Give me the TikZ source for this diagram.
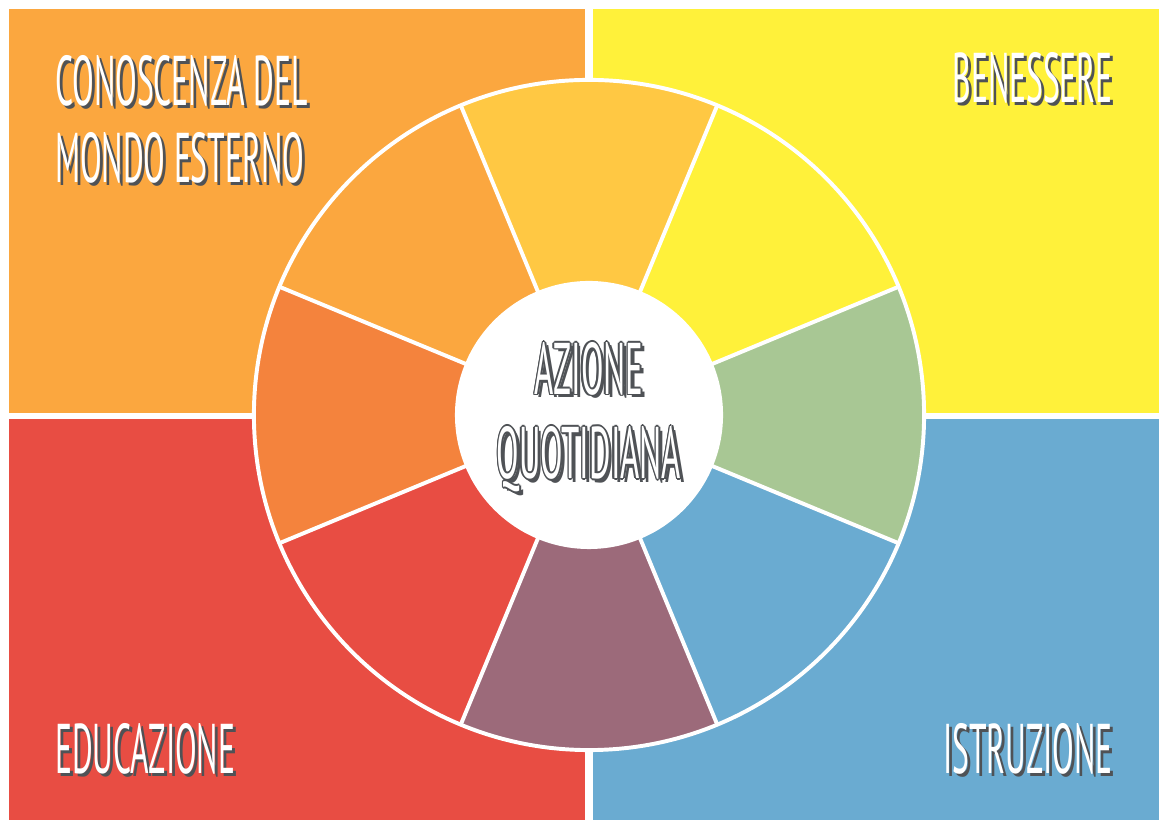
\documentclass[tikz,border=0pt]{standalone}
\usepackage{fontspec}
\usetikzlibrary{calc}
\newfontfamily\handfont[FakeStretch=0.45]{PT Sans}
\definecolor{quadorange}{HTML}{FBA73F}
\definecolor{quadyellow}{HTML}{FFF13A}
\definecolor{quadred}{HTML}{E84D43}
\definecolor{quadblue}{HTML}{6AABD1}
\definecolor{segamber}{HTML}{FFC843}
\definecolor{segdeep}{HTML}{F4833D}
\definecolor{segmauve}{HTML}{9C6A7A}
\definecolor{seggreen}{HTML}{A8C794}
\definecolor{shadowgray}{HTML}{4F5256}

\begin{document}
\begin{tikzpicture}[x=0.025cm,y=0.025cm,
    headtext/.style={font=\handfont\fontsize{50}{55}\selectfont, text=white, inner sep=0pt, align=left},
    headshade/.style={headtext, text=shadowgray},
    hubtext/.style={font=\handfont\fontsize{52}{60}\selectfont, text=white, inner sep=0pt, align=center},
    hubshade/.style={hubtext, text=shadowgray},
    gapline/.style={white, line width=2.8pt}]
			%%%%% QUADRANTS %%%%%
			\fill[white] (0,0) rectangle (1159,820);
			\fill[quadorange] (9,811) rectangle (585,407);
			\fill[quadyellow] (593,811) rectangle (1159,407);
			\fill[quadred] (9,401) rectangle (585,0);
			\fill[quadblue] (593,401) rectangle (1159,0);
			
			%%%%% WHEEL %%%%%
			\coordinate (hub) at (589,405);
			\foreach \a/\c in {90/segamber, 135/quadorange, 180/segdeep, 225/quadred,
			                   270/segmauve, 315/quadblue, 0/seggreen, 45/quadyellow}
			  \fill[\c] (hub) -- ++(\a-22.5:8.375cm)
			    arc[start angle=\a-22.5, end angle=\a+22.5, radius=8.375cm] -- cycle;
			\foreach \a in {22.5,67.5,...,337.5}
			  \draw[gapline] (hub) -- ++(\a:8.375cm);
			\draw[gapline] (hub) circle (8.375cm);
			\fill[white] (hub) circle (3.35cm);
			
			%%%%% HEADINGS %%%%%
			\node[headshade, anchor=north west] (world-sh) at (58,762) {CONOSCENZA DEL\\MONDO ESTERNO};
			\node[headtext, anchor=north west] (world) at (55,765) {CONOSCENZA DEL\\MONDO ESTERNO};
			
			\node[headshade, anchor=north east] (wellbeing-sh) at (1116,765) {BENESSERE};
			\node[headtext, anchor=north east] (wellbeing) at (1113,768) {BENESSERE};
			
			\node[headshade, anchor=south west] (upbringing-sh) at (58,42) {EDUCAZIONE};
			\node[headtext, anchor=south west] (upbringing) at (55,45) {EDUCAZIONE};
			
			\node[headshade, anchor=south east] (schooling-sh) at (1116,42) {ISTRUZIONE};
			\node[headtext, anchor=south east] (schooling) at (1113,45) {ISTRUZIONE};
			
			%%%%% CENTRE %%%%%
			\coordinate (daily-c) at ($(hub)+(0,-2)$);
			\node[hubshade] (daily-sh) at ($(daily-c)+(3.5,-3.5)$) {AZIONE\\QUOTIDIANA};
			\foreach \d [count=\n] in {0,45,...,315}
			  \node[hubshade] (daily-ol\n) at ($(daily-c)+(\d:1.6)$) {AZIONE\\QUOTIDIANA};
			\node[hubtext] (daily) at (daily-c) {AZIONE\\QUOTIDIANA};
\end{tikzpicture}
\end{document}
